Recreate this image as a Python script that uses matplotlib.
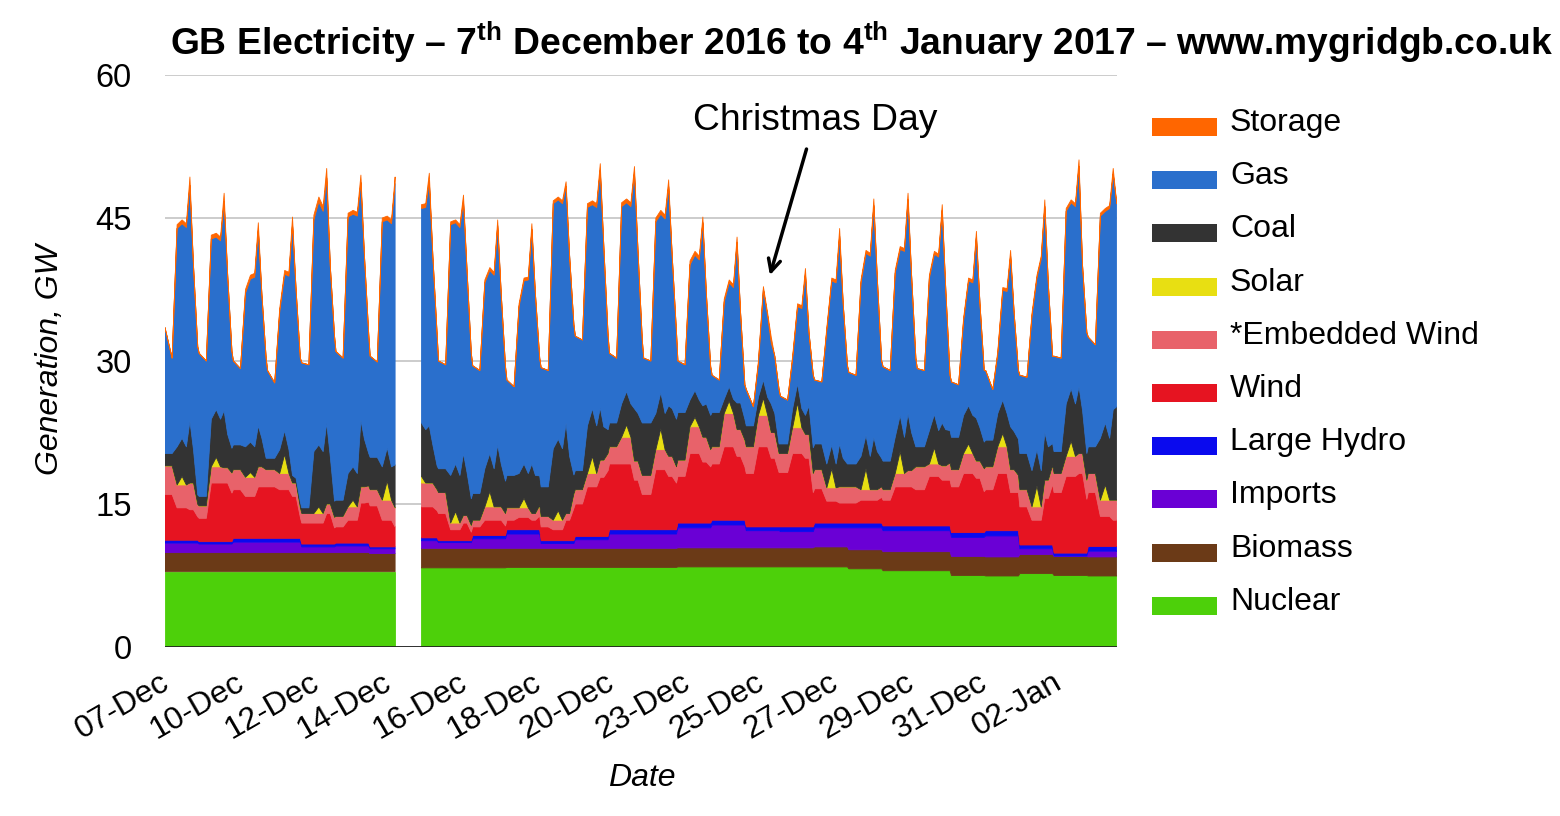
import numpy as np
import matplotlib
matplotlib.use("Agg")
import matplotlib.pyplot as plt
from matplotlib.patches import Rectangle

plt.rcParams['font.family'] = ['Liberation Sans', 'DejaVu Sans']
plt.rcParams['mathtext.fontset'] = 'custom'
plt.rcParams['mathtext.rm'] = 'Liberation Sans'
plt.rcParams['mathtext.bf'] = 'Liberation Sans:bold'

nan = np.nan
N_DAYS = 28                      # day 0 .. day 27 of the series
SLOT_HOURS = [0, 5, 8.5, 12, 15, 17.5, 20, 23]
X_END = 27.84                    # last sample shown (days from start)

# ---- total generation (top of the stack, GW) per slot of each day ----
TOTAL_H00 = [33.5, 30.8, 30.0, 29.0, 29.8, 31.0, 30.5, nan, 30.0, 29.5, 28.0, 29.3, 32.6, 30.8,
             30.3, 30.0, 28.5, 27.0, 26.3, 28.0, 28.8, 29.4, 29.2, 27.8, 29.0, 28.5, 30.5, 32.5]
TOTAL_H05 = [30.3, 30.0, 29.2, 27.7, 29.6, 30.3, 29.9, nan, 29.6, 29.0, 27.3, 29.0, 32.2, 30.3,
             30.0, 29.6, 28.0, 25.2, 25.9, 27.8, 28.5, 29.0, 29.0, 27.5, 27.0, 28.3, 30.3, 31.7]
TOTAL_H08 = [44.3, 43.2, 37.5, 35.5, 45.3, 45.5, 45.0, nan, 44.6, 38.5, 36.0, 46.8, 46.5, 46.6,
             45.0, 40.5, 36.5, 30.0, 30.5, 33.5, 38.5, 39.5, 39.0, 34.5, 31.0, 35.0, 46.0, 45.5]
TOTAL_H12 = [44.8, 43.4, 39.0, 39.5, 47.2, 45.8, 45.2, 46.4, 44.8, 39.8, 38.7, 47.2, 46.8, 47.0,
             45.8, 41.5, 38.5, 37.8, 36.0, 38.7, 41.6, 42.0, 41.5, 38.7, 37.7, 39.0, 46.9, 46.0]
TOTAL_H15 = [44.4, 43.0, 39.2, 39.3, 46.2, 45.6, 44.8, 46.5, 44.3, 39.3, 38.8, 46.8, 46.5, 46.6,
             45.3, 41.0, 38.0, 35.0, 35.8, 38.5, 41.3, 41.8, 41.2, 38.5, 37.6, 41.0, 46.5, 46.3]
TOTAL_H17 = [49.3, 47.6, 44.5, 45.1, 50.2, 49.5, 49.3, 49.7, 47.4, 44.8, 44.4, 48.8, 50.7, 50.4,
             49.0, 45.1, 43.0, 32.5, 39.7, 43.9, 47.0, 47.6, 46.4, 43.6, 41.6, 46.9, 51.1, 50.2]
TOTAL_H20 = [40.0, 39.0, 37.0, 37.5, 40.0, 41.0, nan, 41.0, 39.5, 37.0, 37.0, 41.0, 42.0, 41.5,
             41.0, 37.0, 35.0, 30.5, 33.0, 36.0, 38.5, 39.0, 37.5, 36.0, 35.0, 38.0, 40.0, 46.5]
TOTAL_H23 = [31.5, 31.0, 30.3, 30.3, 32.6, 32.8, nan, 32.8, 30.8, 29.4, 30.3, 33.8, 32.7, 32.2,
             33.0, 29.4, 27.5, 27.0, 28.5, 29.5, 30.0, 30.3, 28.5, 29.0, 29.0, 30.5, 33.0, nan]

# ---- steady layers (GW, one value per day) ----
NUCLEAR = [7.9, 7.9, 7.9, 7.9, 7.9, 7.9, 7.9, 8.3, 8.3, 8.3, 8.35, 8.35, 8.35, 8.35,
           8.35, 8.4, 8.4, 8.4, 8.4, 8.4, 8.2, 8.0, 8.0, 7.5, 7.45, 7.7, 7.5, 7.45]
BIOMASS = [2.0, 2.0, 2.0, 2.0, 2.0, 2.0, 1.9, 2.05, 2.05, 2.05, 2.0, 2.0, 2.0, 2.0,
           2.0, 2.0, 2.0, 2.0, 2.0, 2.1, 2.0, 2.0, 2.0, 2.0, 2.0, 2.0, 2.0, 2.0]
IMPORTS = [1.0, 0.9, 1.1, 1.1, 0.6, 0.7, 0.5, 0.8, 0.6, 1.0, 1.5, 0.5, 0.9, 1.5,
           1.5, 2.1, 2.4, 1.8, 1.7, 2.0, 2.3, 2.2, 2.2, 2.0, 2.2, 0.6, 0.05, 0.6]
HYDRO = [0.3, 0.25, 0.4, 0.4, 0.3, 0.3, 0.2, 0.3, 0.2, 0.35, 0.45, 0.3, 0.35, 0.45,
         0.45, 0.5, 0.5, 0.4, 0.5, 0.5, 0.5, 0.5, 0.5, 0.5, 0.55, 0.4, 0.3, 0.5]

# ---- wind (GW): night (00-05h), day (08-15h), evening (17-20h) ----
WIND_NIGHT = [4.8, 2.45, 5.1, 5.4, 2.2, 1.7, 4.3, 3.25, 2.85, 0.9, 1.0, 1.45, 3.4, 6.9,
              3.7, 4.9, 5.9, 5.6, 5.7, 3.6, 2.1, 2.7, 3.8, 4.8, 4.3, 4.0, 6.35, 5.65]
WIND_DAY = [3.4, 6.15, 4.4, 5.1, 2.2, 2.4, 2.8, 3.25, 1.15, 1.6, 1.3, 1.15, 5.2, 6.9,
            6.3, 7.3, 7.7, 8.4, 7.7, 2.3, 2.4, 4.1, 5.2, 6.2, 6.0, 2.6, 8.05, 3.15]
WIND_EVE = [3.2, 6.15, 5.4, 4.4, 3.2, 4.2, 2.1, 3.25, 1.85, 1.6, 1.0, 2.15, 6.2, 5.2,
            5.6, 6.4, 6.7, 7.2, 7.2, 2.1, 2.4, 4.1, 4.8, 5.7, 4.0, 4.9, 8.35, 2.75]
EMB_NIGHT = [3.0, 1.3, 2.1, 1.8, 1.0, 1.1, 1.7, 2.3, 2.2, 0.7, 1.3, 1.1, 1.5, 1.8,
             2.0, 1.7, 1.8, 2.8, 2.0, 2.0, 1.7, 1.1, 2.4, 1.8, 2.4, 1.8, 2.0, 2.0]
EMB_DAY = [2.4, 1.7, 2.0, 1.7, 1.0, 1.4, 2.1, 2.5, 0.7, 1.4, 1.0, 1.0, 1.4, 2.8,
           2.1, 2.8, 3.5, 3.3, 2.7, 1.4, 1.1, 1.4, 1.3, 2.1, 2.8, 1.4, 2.1, 1.7]
EMB_EVE = [2.8, 1.6, 2.1, 1.4, 1.0, 1.7, 2.0, 2.5, 0.8, 1.4, 0.7, 0.7, 1.8, 2.0,
           2.1, 2.6, 2.8, 2.7, 2.5, 1.7, 1.1, 1.7, 1.5, 1.8, 2.4, 1.9, 2.1, 2.1]

# ---- solar (GW at midday) ----
SOLAR_NOON = [0.9, 1.0, 0.5, 2.0, 0.7, 0.7, 2.0, 0.7, 1.2, 1.6, 1.0, 1.0, 1.8, 1.3,
              2.2, 1.0, 1.3, 1.8, 2.6, 2.0, 2.2, 2.3, 1.7, 1.0, 1.4, 2.2, 1.6, 1.6]

# ---- coal (GW) ----
COAL_NIGHT = [1.3, 1.0, 2.6, 1.2, 0.6, 1.7, 3.4, 3.0, 2.5, 2.8, 3.4, 3.1, 2.0, 2.5,
              5.5, 5.0, 3.6, 2.2, 1.0, 2.7, 2.4, 3.0, 2.1, 3.4, 2.8, 3.8, 2.3, 2.8]
COAL_DAY = [4.0, 5.0, 3.2, 2.5, 6.5, 3.5, 3.5, 5.6, 5.0, 4.0, 3.6, 7.5, 5.0, 3.5,
            3.8, 2.8, 1.5, 1.9, 2.0, 2.5, 3.5, 3.8, 3.5, 4.0, 3.5, 3.8, 5.5, 6.5]
COAL_PEAK = [6.5, 6.0, 4.3, 0.8, 8.5, 7.0, 4.5, 6.0, 6.5, 6.5, 5.2, 9.5, 5.5, 5.5,
             5.3, 3.3, 2.8, 3.0, 2.0, 4.5, 5.5, 6.0, 4.5, 4.5, 4.5, 5.0, 7.0, 9.5]
COAL_EVE = [3.5, 3.5, 3.0, 0.5, 5.0, 5.0, 4.5, 4.0, 4.5, 4.5, 4.0, 6.0, 3.5, 5.0,
            5.0, 3.5, 2.8, 2.0, 3.0, 3.0, 4.0, 4.0, 3.8, 3.5, 4.0, 3.5, 4.5, 9.8]

# ---- storage (GW) ----
STORAGE_DAY = [0.4, 0.4, 0.4, 0.4, 0.5, 0.4, 0.4, 0.4, 0.3, 0.3, 0.3, 0.3, 0.4, 0.4,
               0.4, 0.4, 0.3, 0.3, 0.3, 0.3, 0.3, 0.3, 0.3, 0.3, 0.3, 0.3, 0.3, 0.3]
STORAGE_PEAK = [0.9, 0.9, 0.8, 0.8, 1.0, 0.8, 0.7, 0.8, 0.7, 0.6, 0.6, 0.5, 0.7, 0.7,
                0.7, 0.6, 0.6, 0.6, 0.6, 0.8, 0.7, 0.7, 0.6, 0.6, 0.6, 0.7, 0.7, 0.6]

SERIES = ['Nuclear', 'Biomass', 'Imports', 'Large Hydro', 'Wind', '*Embedded Wind',
          'Solar', 'Coal', 'Gas', 'Storage']
COLORS = ['#4DD00A', '#6B3A17', '#6A00D5', '#0A0AEE', '#E61421', '#E8626A',
          '#E8DF12', '#333333', '#2A6FCC', '#FF6600']

TICK_POS = [0.06, 2.25, 4.44, 6.55, 8.77, 10.94, 13.07, 15.29, 17.46, 19.62, 21.84, 23.98, 26.17]
TICK_LABELS = ['07-Dec', '10-Dec', '12-Dec', '14-Dec', '16-Dec', '18-Dec', '20-Dec',
               '23-Dec', '25-Dec', '27-Dec', '29-Dec', '31-Dec', '02-Jan']


def expand(sources):
    """sources: one (array, day_offset) per slot; None -> 0."""
    out = []
    for d in range(N_DAYS):
        for src in sources:
            if src is None:
                out.append(0.0)
            else:
                arr, off = src
                out.append(arr[min(d + off, N_DAYS - 1)])
    return np.array(out, dtype=float)


t = np.array([d + h / 24.0 for d in range(N_DAYS) for h in SLOT_HOURS])
total = np.array([v for d in range(N_DAYS) for v in
                  (TOTAL_H00[d], TOTAL_H05[d], TOTAL_H08[d], TOTAL_H12[d], TOTAL_H15[d],
                   TOTAL_H17[d], TOTAL_H20[d], TOTAL_H23[d])], dtype=float)

const = lambda a: [(a, 0)] * len(SLOT_HOURS)
three = lambda n, dd, e: [(n, 0), (n, 0), (dd, 0), (dd, 0), (dd, 0), (e, 0), (e, 0), (n, 1)]

nuclear = expand(const(NUCLEAR))
biomass = expand(const(BIOMASS))
imports = expand(const(IMPORTS))
hydro = expand(const(HYDRO))
wind = expand(three(WIND_NIGHT, WIND_DAY, WIND_EVE))
emb = expand(three(EMB_NIGHT, EMB_DAY, EMB_EVE))
solar = expand([None, None, None, (SOLAR_NOON, 0), None, None, None, None])
coal = expand([(COAL_NIGHT, 0), (COAL_NIGHT, 0), (COAL_DAY, 0), (COAL_DAY, 0), (COAL_DAY, 0),
               (COAL_PEAK, 0), (COAL_EVE, 0), (COAL_NIGHT, 1)])
storage = expand([None, None, (STORAGE_DAY, 0), (STORAGE_DAY, 0), (STORAGE_DAY, 0),
                  (STORAGE_PEAK, 0), None, None])

below_gas = nuclear + biomass + imports + hydro + wind + emb + solar + coal
gas = np.clip(total - below_gas - storage, 0, None)
layers = [nuclear, biomass, imports, hydro, wind, emb, solar, coal, gas, storage]
missing = np.isnan(total)
for L in layers:
    L[missing] = np.nan

keep = t <= X_END
t = t[keep]
layers = [L[keep] for L in layers]

# ---------------- figure ----------------
fig = plt.figure(figsize=(15.6, 8.16), dpi=100)
W, H = 1560.0, 816.0
ax = fig.add_axes([165 / W, 1 - 647 / H, (1117 - 165) / W, (647 - 75) / H])

ax.stackplot(t, *layers, colors=COLORS, linewidth=0.6, edgecolor='face', zorder=2)

ax.set_xlim(0, X_END)
ax.set_ylim(0, 60)
ax.set_yticks([0, 15, 30, 45, 60])
ax.set_yticklabels(['0', '15', '30', '45', '60'])
ax.yaxis.grid(True, color='#c8c8c8', linewidth=1.3, zorder=0)
ax.set_axisbelow(True)
for s in ax.spines.values():
    s.set_visible(False)
ax.axhline(0, color='#222222', linewidth=2.0, zorder=5)
ax.tick_params(axis='y', length=0, pad=24, labelsize=23.5)
ax.set_xticks(TICK_POS)
ax.set_xticklabels(TICK_LABELS, rotation=30, ha='right', va='center',
                   rotation_mode='anchor', fontsize=23)
ax.tick_params(axis='x', length=0, pad=24)

fig.text(50 / W, 1 - 360 / H, 'Generation, GW', rotation=90, style='italic',
         fontsize=23, ha='center', va='center')
fig.text(642 / W, 1 - 778 / H, 'Date', style='italic', fontsize=23,
         ha='center', va='center')

fig.text(862 / W, 1 - 42 / H,
         'GB Electricity \u2013 7$^{\\mathbf{th}}$ December 2016 to 4$^{\\mathbf{th}}$ '
         'January 2017 \u2013 www.mygridgb.co.uk',
         fontsize=26.8, fontweight='bold', ha='center', va='center')

ax.annotate('Christmas Day', xy=(17.69, 39.0), xytext=(19.0, 55.2),
            fontsize=26.8, ha='center', va='center',
            arrowprops=dict(arrowstyle='->', color='black', lw=2.5,
                            mutation_scale=22, shrinkA=6, shrinkB=0),
            annotation_clip=False, zorder=6)

# legend (top to bottom)
for i, (name, col) in enumerate(zip(SERIES[::-1], COLORS[::-1])):
    cy = 127 + 53.2 * i
    fig.patches.append(Rectangle((1152 / W, 1 - (cy + 9) / H), 65 / W, 18 / H,
                                 transform=fig.transFigure, facecolor=col,
                                 edgecolor='none'))
    fig.text(1230 / W, 1 - (cy - 4) / H, name, fontsize=23, ha='left', va='center')

fig.savefig('out.png', dpi=100)
